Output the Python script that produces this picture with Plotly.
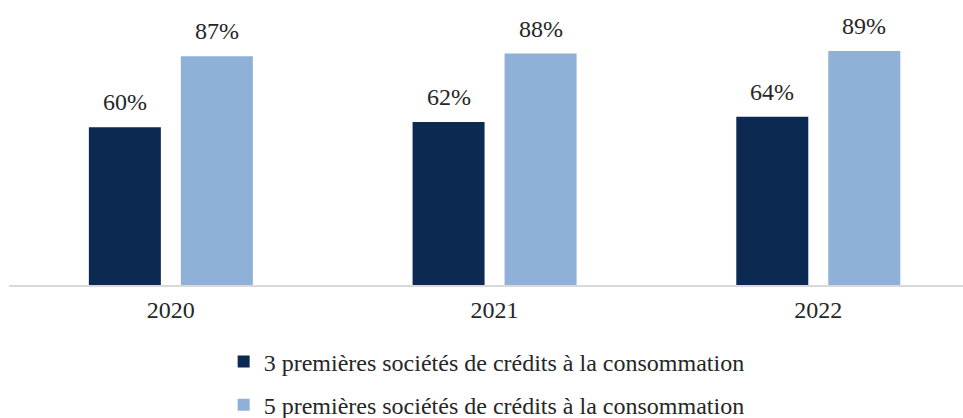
import plotly.graph_objects as go

# Categories and series
years = ["2020", "2021", "2022"]
top3 = [60, 62, 64]
top5 = [87, 88, 89]
series_names = [
    "3 premières sociétés de crédits à la consommation",
    "5 premières sociétés de crédits à la consommation",
]
colors = ["#0B2951", "#8FB0D7"]

FONT = "Liberation Serif"
TEXT_COLOR = "#262626"

pos = list(range(len(years)))
bar_w = 0.2224
gap = 0.0618
offsets = [-(bar_w + gap / 2), gap / 2]
legend_ids = ["legend", "legend2"]

fig = go.Figure()
for i, (name, vals) in enumerate(zip(series_names, [top3, top5])):
    fig.add_trace(go.Bar(
        x=pos, y=vals, name=name,
        width=bar_w, offset=offsets[i],
        marker=dict(color=colors[i], line=dict(width=0)),
        legend=legend_ids[i],
        hoverinfo="skip",
    ))
    for p, v in zip(pos, vals):
        fig.add_annotation(
            x=p + offsets[i] + bar_w / 2, y=v, text=f"{v}%",
            showarrow=False, yanchor="bottom", yshift=10,
            font=dict(family=FONT, size=24, color=TEXT_COLOR),
        )

# One legend box per series, stacked under the axis
legend_style = dict(
    orientation="v", x=0.225, xanchor="left", yref="container",
    yanchor="middle", font=dict(family=FONT, size=24, color=TEXT_COLOR),
    itemwidth=30, bgcolor="rgba(0,0,0,0)",
)

fig.update_layout(
    width=963, height=418,
    margin=dict(l=9, r=0, t=22, b=133, autoexpand=False),
    plot_bgcolor="white", paper_bgcolor="white",
    barmode="overlay",
    showlegend=True,
    font=dict(family=FONT, color=TEXT_COLOR),
    legend=dict(legend_style, y=0.134),
    legend2=dict(legend_style, y=0.031),
    xaxis=dict(
        range=[-0.5, 2.447], tickmode="array", tickvals=pos, ticktext=years,
        showline=True, linecolor="#D9D9D9", linewidth=2,
        showgrid=False, zeroline=False, ticks="",
        tickfont=dict(family=FONT, size=24, color=TEXT_COLOR),
        ticklabelstandoff=2,
    ),
    yaxis=dict(range=[0, 100], visible=False, showgrid=False, zeroline=False),
)

fig.write_html("out.html")
